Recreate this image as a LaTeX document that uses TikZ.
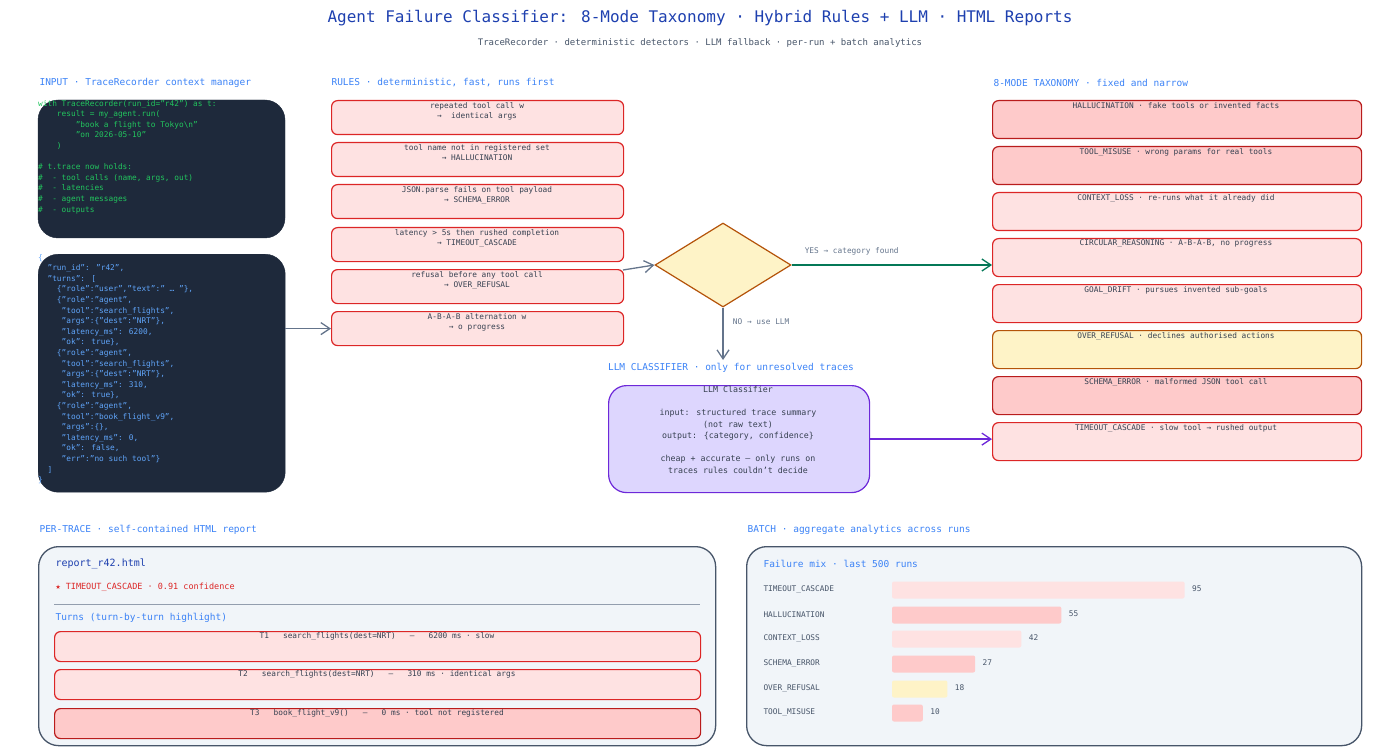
\documentclass[tikz,border=0pt]{standalone}
\usepackage{fontspec}
\setmainfont{DejaVu Sans Mono}
\setmonofont{DejaVu Sans Mono}
\usetikzlibrary{shapes.geometric,arrows.meta}
\definecolor{ttl}{HTML}{1E40AF}
\definecolor{sub}{HTML}{475569}
\definecolor{sec}{HTML}{3B82F6}
\definecolor{dark}{HTML}{1E293B}
\definecolor{cg}{HTML}{22C55E}
\definecolor{cb}{HTML}{60A5FA}
\definecolor{pk}{HTML}{FEE2E2}
\definecolor{pkd}{HTML}{FECACA}
\definecolor{rd}{HTML}{DC2626}
\definecolor{rdd}{HTML}{B91C1C}
\definecolor{yl}{HTML}{FEF3C7}
\definecolor{yld}{HTML}{B45309}
\definecolor{txt}{HTML}{374151}
\definecolor{gr}{HTML}{64748B}
\definecolor{grn}{HTML}{047857}
\definecolor{pu}{HTML}{DDD6FE}
\definecolor{pud}{HTML}{6D28D9}
\definecolor{bgp}{HTML}{F1F5F9}
\definecolor{bgs}{HTML}{475569}
\begin{document}
\begin{tikzpicture}[x=1pt,y=-1pt,
  lbl/.style={anchor=west,text=sec,font=\fontsize{9.5}{11}\selectfont},
  rule/.style={draw=rd,fill=pk,line width=1.2pt,rounded corners=6pt},
  tax/.style={draw=rd,fill=pk,line width=1.2pt,rounded corners=6pt},
  taxd/.style={draw=rdd,fill=pkd,line width=1.2pt,rounded corners=6pt},
  taxy/.style={draw=yld,fill=yl,line width=1.2pt,rounded corners=6pt},
  btxt/.style={anchor=north,text=txt,align=center,font=\fontsize{7.8}{10.6}\selectfont,inner sep=0pt},
  code/.style={anchor=north west,align=left,font=\fontsize{7.8}{10.6}\selectfont,inner sep=0pt},
  arr/.style={-{Straight Barb[length=9pt,width=12pt]},line width=1.3pt},
  bar/.style={rounded corners=2pt},
]
\useasboundingbox (0,0) rectangle (1400,754);
\node[text=ttl,font=\fontsize{16}{18}\selectfont] (title) at (700,18) {Agent Failure Classifier: 8-Mode Taxonomy · Hybrid Rules + LLM · HTML Reports};
\node[text=sub,font=\fontsize{9}{11}\selectfont] (subt) at (700,43) {TraceRecorder · deterministic detectors · LLM fallback · per-run + batch analytics};

% INPUT
\node[lbl] (l1) at (36,83) {INPUT · TraceRecorder context manager};
\draw[fill=dark,draw=dark,rounded corners=20pt] (38,100) rectangle (285,238);
\node[code,text=cg] (c1) at (38,100) {with TraceRecorder(run\_id="r42") as t:\\
\ \ \ \ result = my\_agent.run(\\
\ \ \ \ \ \ \ \ "book a flight to Tokyo\textbackslash n"\\
\ \ \ \ \ \ \ \ "on 2026-05-10"\\
\ \ \ \ )\\[10.6pt]
\# t.trace now holds:\\
\#\ \ - tool calls (name, args, out)\\
\#\ \ - latencies\\
\#\ \ - agent messages\\
\#\ \ - outputs};
\node[draw=dark,fill=dark,rounded corners=20pt,minimum width=247pt,minimum height=238pt,anchor=north west,inner sep=0pt] (json) at (38,254) {};
\node[code,text=cb] (c2) at (38,254) {\{\\
\ \ "run\_id": "r42",\\
\ \ "turns": [\\
\ \ \ \ \{"role":"user","text":" … "\},\\
\ \ \ \ \{"role":"agent",\\
\ \ \ \ \ "tool":"search\_flights",\\
\ \ \ \ \ "args":\{"dest":"NRT"\},\\
\ \ \ \ \ "latency\_ms": 6200,\\
\ \ \ \ \ "ok": true\},\\
\ \ \ \ \{"role":"agent",\\
\ \ \ \ \ "tool":"search\_flights",\\
\ \ \ \ \ "args":\{"dest":"NRT"\},\\
\ \ \ \ \ "latency\_ms": 310,\\
\ \ \ \ \ "ok": true\},\\
\ \ \ \ \{"role":"agent",\\
\ \ \ \ \ "tool":"book\_flight\_v9",\\
\ \ \ \ \ "args":\{\},\\
\ \ \ \ \ "latency\_ms": 0,\\
\ \ \ \ \ "ok": false,\\
\ \ \ \ \ "err":"no such tool"\}\\
\ \ ]\\
\}};

% RULES
\node[lbl] (l2) at (328,83) {RULES · deterministic, fast, runs first};
\foreach \i/\y/\a/\b in {1/100/repeated tool call w/ identical args/CONTEXT\_LOSS,
  2/142/tool name not in registered set/HALLUCINATION,
  3/184/JSON.parse fails on tool payload/SCHEMA\_ERROR,
  4/227/latency > 5s then rushed completion/TIMEOUT\_CASCADE,
  5/269/refusal before any tool call/OVER\_REFUSAL,
  6/311/A-B-A-B alternation w/o progress/CIRCULAR\_REASONING}{
  \node[rule,minimum width=292pt,minimum height=34pt,anchor=north west,inner sep=0pt] (r\i) at (331,\y) {};
  \node[btxt] at (477,\y+2) {\a\\→ \b};
}
\draw[arr,gr] (json.east |- r6.west) -- (r6.west);

% diamond
\node[diamond,draw=yld,fill=yl,line width=1.2pt,minimum width=136pt,minimum height=84pt,aspect=1.62,inner sep=0pt] (dec) at (723,265) {};
\draw[arr,gr] (623,270) -- (dec.west);
\draw[arr,grn] (dec.east) -- (992,265) node[pos=0.3,above=6pt,text=gr,font=\fontsize{7.8}{9}\selectfont] {YES → category found};
\coordinate (llmtop) at (723,360);
\draw[arr,gr] (dec.south) -- (llmtop) node[pos=0.27,right=6pt,text=gr,font=\fontsize{7.8}{9}\selectfont] {NO → use LLM};

% LLM
\node[text=sec,font=\fontsize{9.5}{11}\selectfont] (l3) at (731,368) {LLM CLASSIFIER · only for unresolved traces};
\node[draw=pud,fill=pu,line width=1.2pt,rounded corners=18pt,minimum width=261pt,minimum height=107pt,anchor=north west,inner sep=0pt] (llm) at (608,385) {};
\node[btxt,font=\fontsize{8.3}{11.5}\selectfont] at (738,386) {LLM Classifier\\[11.5pt]input: structured trace summary\\(not raw text)\\output: \{category, confidence\}\\[11.5pt]cheap + accurate — only runs on\\traces rules couldn't decide};

% TAXONOMY
\node[lbl] (l4) at (990,83) {8-MODE TAXONOMY · fixed and narrow};
\foreach \i/\y/\s/\t in {1/100/taxd/HALLUCINATION · fake tools or invented facts,
  2/146/taxd/TOOL\_MISUSE · wrong params for real tools,
  3/192/tax/CONTEXT\_LOSS · re-runs what it already did,
  4/238/tax/CIRCULAR\_REASONING · A-B-A-B\rlap{,} \ no progress,
  5/284/tax/GOAL\_DRIFT · pursues invented sub-goals,
  6/330/taxy/OVER\_REFUSAL · declines authorised actions,
  7/376/taxd/SCHEMA\_ERROR · malformed JSON tool call,
  8/422/tax/TIMEOUT\_CASCADE · slow tool → rushed output}{
  \node[\s,minimum width=369pt,minimum height=38pt,anchor=north west,inner sep=0pt] (t\i) at (992,\y) {};
  \node[btxt] at (1176,\y+2) {\t};
}
\draw[arr,pud] (llm.east) -- (llm.east -| t8.west);

% PER-TRACE
\node[lbl] (l5) at (36,530) {PER-TRACE · self-contained HTML report};
\node[draw=bgs,fill=bgp,line width=1.3pt,rounded corners=20pt,minimum width=677pt,minimum height=199pt,anchor=north west,inner sep=0pt] (rep) at (38,546) {};
\node[anchor=west,text=ttl,font=\fontsize{10}{12}\selectfont] (rn) at (52,564) {report\_r42.html};
\node[anchor=west,text=rd,font=\fontsize{8.5}{10}\selectfont] (rc) at (52,587) {★ TIMEOUT\_CASCADE · 0.91 confidence};
\draw[gr!70,line width=1pt] (54,604) -- (700,604);
\node[anchor=west,text=sec,font=\fontsize{9.5}{11}\selectfont] (tt) at (52,618) {Turns (turn-by-turn highlight)};
\foreach \i/\y/\s/\t in {1/631/tax/T1\ \ \ search\_flights(dest=NRT)\ \ \ —\ \ \ 6200 ms · slow,
  2/669/tax/T2\ \ \ search\_flights(dest=NRT)\ \ \ —\ \ \ 310 ms · identical args,
  3/708/taxd/T3\ \ \ book\_flight\_v9()\ \ \ —\ \ \ 0 ms · tool not registered}{
  \node[\s,minimum width=646pt,minimum height=30pt,anchor=north west,inner sep=0pt] (tr\i) at (54,\y) {};
  \node[btxt] at (377,\y+1) {\t};
}

% BATCH
\node[lbl] (l6) at (744,530) {BATCH · aggregate analytics across runs};
\node[draw=bgs,fill=bgp,line width=1.3pt,rounded corners=20pt,minimum width=615pt,minimum height=199pt,anchor=north west,inner sep=0pt] (bat) at (746,546) {};
\node[anchor=west,text=sec,font=\fontsize{9.5}{11}\selectfont] (fm) at (760,564) {Failure mix · last 500 runs};
\foreach \i/\y/\n/\v/\c in {1/590/TIMEOUT\_CASCADE/95/pk,2/615/HALLUCINATION/55/pkd,3/639/CONTEXT\_LOSS/42/pk,
  4/664/SCHEMA\_ERROR/27/pkd,5/689/OVER\_REFUSAL/18/yl,6/713/TOOL\_MISUSE/10/pkd}{
  \node[anchor=west,text=sub,font=\fontsize{7.8}{9}\selectfont] (bn\i) at (760,\y) {\n};
  \fill[\c,bar] (892,\y-8.5) rectangle ({892+3.08*\v},\y+8.5);
  \node[anchor=west,text=sub,font=\fontsize{7.8}{9}\selectfont] (bv\i) at ({892+3.08*\v+4},\y-1) {\v};
}
\end{tikzpicture}
\end{document}
